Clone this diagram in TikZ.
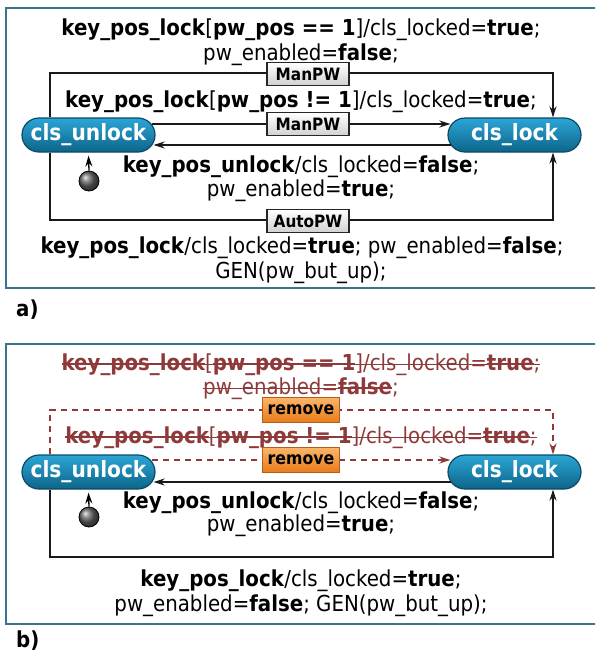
\documentclass[tikz,border=0pt]{standalone}
\usepackage{fontspec}
\setmainfont{DejaVu Sans Condensed}
\usetikzlibrary{shapes.misc,arrows.meta,calc}
\definecolor{framec}{HTML}{3A7490}
\definecolor{rmred}{HTML}{8E3A3A}
\definecolor{sttop}{HTML}{2BA6D6}
\definecolor{stbot}{HTML}{0D6489}
\definecolor{stbord}{HTML}{0B4A66}
\definecolor{ortop}{HTML}{FAB56A}
\definecolor{orbot}{HTML}{E97B18}
\definecolor{orbord}{HTML}{B0601C}
\newsavebox\stkbox
\newcommand\stkr[1]{\sbox\stkbox{#1}\rlap{\rule[\dimexpr0.55ex-0.5pt\relax]{\wd\stkbox}{1pt}}\usebox\stkbox}
\newcommand\stkb[1]{\sbox\stkbox{\bfseries #1}\rlap{\rule[\dimexpr0.55ex-1.2pt\relax]{\wd\stkbox}{2.4pt}}\usebox\stkbox}
\tikzset{
  statebox/.style={rounded rectangle, minimum width=133pt, minimum height=34pt,
    inner sep=0pt, draw=stbord, line width=1.2pt, top color=sttop, bottom color=stbot,
    text=white, font=\fontsize{22.4}{26}\selectfont\bfseries},
  lblbox/.style={draw=black!85, line width=1.3pt, top color=white, bottom color=black!18,
    font=\fontsize{17}{20}\selectfont\bfseries, minimum width=82pt, minimum height=23pt, inner sep=0pt},
  rmbox/.style={draw=orbord, line width=1pt, top color=ortop, bottom color=orbot,
    font=\fontsize{17.5}{20}\selectfont\bfseries, minimum width=77pt, minimum height=25pt, inner sep=0pt},
  txt/.style={font=\fontsize{22}{26}\selectfont, inner sep=0pt, yshift=-3pt},
  rmtxt/.style={txt, text=rmred},
  panel/.style={draw=framec, line width=1.5pt},
  conn/.style={line width=1.7pt, draw=black!90},
  tipped/.style={-{Stealth[length=11pt,width=7pt]}},
  rmconn/.style={line width=1.7pt, draw=rmred, dash pattern=on 6pt off 5pt},
  initdot/.style={circle, minimum size=20pt, inner sep=0pt, draw=black, line width=0.8pt, ball color=black!60},
  panellbl/.style={font=\fontsize{22}{26}\selectfont\bfseries, inner sep=0pt, anchor=west},
}
\begin{document}
\begin{tikzpicture}[x=1pt,y=-1pt]
\useasboundingbox (0,0) rectangle (595,656);
\clip (0,0) rectangle (595,656);
% ---------------- panel a ----------------
\draw[panel] (6,8) rectangle (602,288);
\node[txt] (a1) at (301,27) {\textbf{key\_pos\_lock}[\textbf{pw\_pos == 1}]/cls\_locked=\textbf{true};};
\node[txt] (a2) at (301,52) {pw\_enabled=\textbf{false};};
\node[txt] (a3) at (301,99) {\textbf{key\_pos\_lock}[\textbf{pw\_pos != 1}]/cls\_locked=\textbf{true};};
\node[txt] (a4) at (301,164) {\textbf{key\_pos\_unlock}/cls\_locked=\textbf{false};};
\node[txt] (a5) at (301,188) {pw\_enabled=\textbf{true};};
\node[txt] (a6) at (302,245) {\textbf{key\_pos\_lock}/cls\_locked=\textbf{true}; pw\_enabled=\textbf{false};};
\node[txt] (a7) at (301,270) {GEN(pw\_but\_up);};
\node[statebox] (ua) at (88.5,135) {cls\_unlock};
\node[statebox] (la) at (514.5,135) {cls\_lock};
\coordinate (atl) at (50,73);
\coordinate (atr) at (553,73);
\coordinate (abl) at (50,220);
\coordinate (abr) at (553,220);
\draw[conn,tipped] (ua.north -| atl) -- (atl) -- (atr) -- (la.north -| atr);
\draw[conn,tipped] (ua.south -| abl) -- (abl) -- (abr) -- (la.south -| abr);
\draw[conn,tipped] ([xshift=-4pt,yshift=11pt]ua.east) -- ([xshift=3pt,yshift=11pt]la.west);
\draw[conn,tipped] ([xshift=4pt,yshift=-10pt]la.west) -- ([xshift=-2pt,yshift=-10pt]ua.east);
\node[lblbox] (m1) at (308,74) {ManPW};
\node[lblbox] (m2) at (308,124) {ManPW};
\node[lblbox] (m3) at (308,221) {AutoPW};
\node[initdot] (ia) at (89,181) {};
\draw[line width=1.3pt,tipped] (ia.north) -- ([yshift=-3pt]ua.south);
\node[panellbl] (la1) at (16,310) {a)};
% ---------------- panel b ----------------
\draw[panel] (6,344) rectangle (602,624);
\node[rmtxt] (b1) at (301,362) {\stkb{key\_pos\_lock}\stkr{[}\stkb{pw\_pos == 1}\stkr{]/cls\_locked=}\stkb{true}\stkr{;}};
\node[rmtxt] (b2) at (301,386) {\stkr{pw\_enabled=}\stkb{false};};
\node[rmtxt] (b3) at (301,435) {\stkb{key\_pos\_lock}\stkr{[}\stkb{pw\_pos != 1}\stkr{]/cls\_locked=}\stkb{true}\stkr{;}};
\node[txt] (b4) at (301,500) {\textbf{key\_pos\_unlock}/cls\_locked=\textbf{false};};
\node[txt] (b5) at (301,523) {pw\_enabled=\textbf{true};};
\node[txt] (b6) at (301,578) {\textbf{key\_pos\_lock}/cls\_locked=\textbf{true};};
\node[txt] (b7) at (301,603) {pw\_enabled=\textbf{false}; GEN(pw\_but\_up);};
\node[statebox] (ub) at (88.5,472) {cls\_unlock};
\node[statebox] (lb) at (514.5,472) {cls\_lock};
\coordinate (btl) at (50,410);
\coordinate (btr) at (553,410);
\coordinate (bbl) at (50,557);
\coordinate (bbr) at (553,557);
\draw[rmconn,tipped] (ub.north -| btl) -- (btl) -- (btr) -- (lb.north -| btr);
\draw[conn,tipped] (ub.south -| bbl) -- (bbl) -- (bbr) -- (lb.south -| bbr);
\draw[rmconn,tipped] ([xshift=-4pt,yshift=12pt]ub.east) -- ([xshift=3pt,yshift=12pt]lb.west);
\draw[conn,tipped] ([xshift=4pt,yshift=-10pt]lb.west) -- ([xshift=-2pt,yshift=-10pt]ub.east);
\node[rmbox] (r1) at (301,410) {remove};
\node[rmbox] (r2) at (301,460) {remove};
\node[initdot] (ib) at (89,517) {};
\draw[line width=1.3pt,tipped] (ib.north) -- ([yshift=-3pt]ub.south);
\node[panellbl] (lb1) at (16,641) {b)};
\end{tikzpicture}
\end{document}
